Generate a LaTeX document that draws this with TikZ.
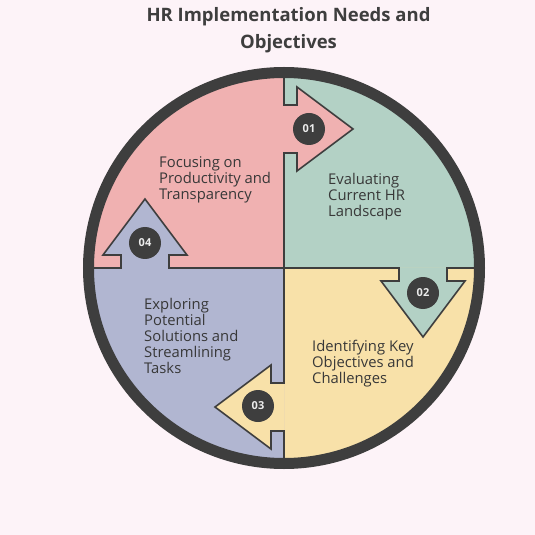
\documentclass[tikz,border=0pt]{standalone}
\usepackage{fontspec}
\setmainfont{Open Sans}
\usepackage{xcolor}
\usepackage{tikz}

\definecolor{bgpink}{HTML}{FDF3F8}
\definecolor{darkgray}{HTML}{3E3E3E}
\definecolor{quadpink}{HTML}{F0B1B1}
\definecolor{quadgreen}{HTML}{B3D1C5}
\definecolor{quadyellow}{HTML}{F8E1A9}
\definecolor{quadblue}{HTML}{B1B6D1}

\begin{document}
\begin{tikzpicture}[x=1pt, y=1pt,
    steptext/.style={font=\fontsize{14.8}{16}\selectfont, text=darkgray!90!black, align=left, anchor=west, inner sep=0pt},
    stepnum/.style={circle, fill=darkgray, minimum size=32pt, inner sep=0pt, text=white!92!black, font=\fontsize{11}{12}\selectfont\bfseries},
    divider/.style={draw=darkgray, line width=1.6pt, line join=miter},
    arrowshape/.style={insert path={-- (13,115) -- (13,97) -- (69,139) -- (13,181) -- (13,163) -- (0,163)}}]
    \useasboundingbox[fill=bgpink] (-284,-267) rectangle (251,268);
    \node[font=\fontsize{18.5}{27}\selectfont\bfseries, text=darkgray, align=center] (title) at (4.5,237.5) {HR Implementation Needs and\\Objectives};
    % quadrants
    \fill[quadpink]   (0,0) -- (-192,0) arc (180:90:192) -- cycle;
    \fill[quadgreen]  (0,0) -- (0,192) arc (90:0:192) -- cycle;
    \fill[quadyellow] (0,0) -- (192,0) arc (0:-90:192) -- cycle;
    \fill[quadblue]   (0,0) -- (0,-192) arc (270:180:192) -- cycle;
    % arrows between quadrants
    \fill[quadpink] (0,115) [arrowshape] -- cycle;
    \draw[divider] (0,0) -- (0,115) [arrowshape] -- (0,192);
    \fill[quadgreen, rotate=-90] (0,115) [arrowshape] -- cycle;
    \draw[divider, rotate=-90] (0,0) -- (0,115) [arrowshape] -- (0,192);
    \fill[quadyellow, rotate=-180] (0,115) [arrowshape] -- cycle;
    \draw[divider, rotate=-180] (0,0) -- (0,115) [arrowshape] -- (0,192);
    \fill[quadblue, rotate=90] (0,115) [arrowshape] -- cycle;
    \draw[divider, rotate=90] (0,0) -- (0,115) [arrowshape] -- (0,192);
    \draw[darkgray, line width=11pt] (0,0) circle (195.5);
    % numbers
    \node[stepnum] (num1) at (25,139) {01};
    \node[stepnum] (num2) at (139,-25) {02};
    \node[stepnum] (num3) at (-26,-138) {03};
    \node[stepnum] (num4) at (-139,25) {04};
    % texts
    \node[steptext] (focus) at (-125,88) {Focusing on\\Productivity and\\Transparency};
    \node[steptext] (evaluate) at (44,71) {Evaluating\\Current HR\\Landscape};
    \node[steptext] (identify) at (28,-96) {Identifying Key\\Objectives and\\Challenges};
    \node[steptext] (explore) at (-140,-68) {Exploring\\Potential\\Solutions and\\Streamlining\\Tasks};
\end{tikzpicture}
\end{document}
